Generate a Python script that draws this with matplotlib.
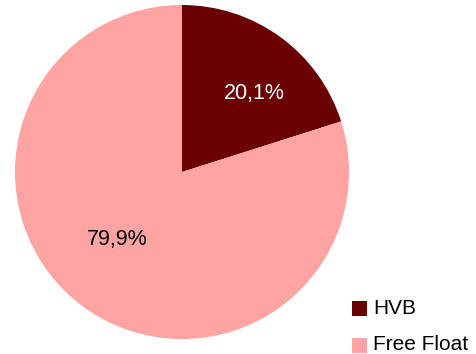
import matplotlib
matplotlib.use("Agg")
import matplotlib.pyplot as plt
from matplotlib.patches import Rectangle

categories = ["HVB", "Free Float"]
values = [20.1, 79.9]
value_labels = ["20,1%", "79,9%"]
colors = ["#6B0000", "#FFA3A3"]
label_colors = ["white", "black"]
label_pos = [(0.431, 0.473), (-0.389, -0.407)]

plt.rcParams['font.family'] = ['Liberation Sans', 'DejaVu Sans']

W, H = 477, 354
fig = plt.figure(figsize=(W / 100, H / 100), dpi=100)
ax = fig.add_axes([15 / W, (H - 339) / H, 334 / W, 334 / H])
ax.pie(values, colors=colors, startangle=90, counterclock=False, radius=1,
       wedgeprops=dict(linewidth=0))
ax.set_xlim(-1, 1)
ax.set_ylim(-1, 1)
ax.set_aspect('equal')
ax.axis('off')
for (x, y), t, c in zip(label_pos, value_labels, label_colors):
    ax.text(x, y, t, ha='center', va='center', color=c, fontsize=15.5)

# legend
for i, (cat, col) in enumerate(zip(categories, colors)):
    ytop = 301 + i * 37
    fig.patches.append(Rectangle((352 / W, (H - ytop - 15) / H), 15 / W, 15 / H,
                                 transform=fig.transFigure, facecolor=col,
                                 edgecolor='none'))
    fig.text(373 / W, (H - (ytop + 12.5)) / H, cat, ha='left', va='baseline',
             fontsize=15, color='black')

fig.savefig("out.png", dpi=100)
